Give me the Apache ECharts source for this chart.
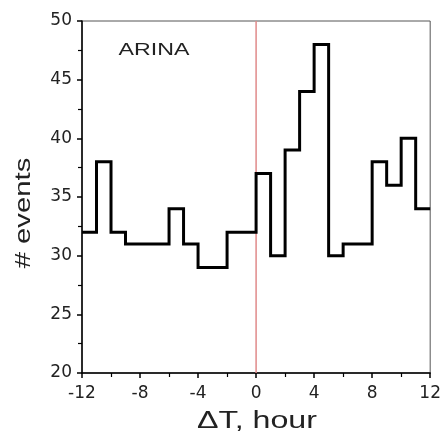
<!DOCTYPE html>
<html>
<head>
<meta charset="utf-8">
<script src="https://cdn.jsdelivr.net/npm/echarts@6/dist/echarts.min.js"></script>
<style>
  html, body { margin: 0; padding: 0; background: #fff; }
  #chart { width: 444px; height: 433px; }
</style>
</head>
<body>
<div id="chart"></div>
<script>
// Hourly bins: left edge of each bin (hours) and the event count in it
const binStarts = [-12, -11, -10, -9, -8, -7, -6, -5, -4, -3, -2, -1,
                   0, 1, 2, 3, 4, 5, 6, 7, 8, 9, 10, 11];
const counts    = [32, 38, 32, 31, 31, 31, 34, 31, 29, 29, 32, 32,
                   37, 30, 39, 44, 48, 30, 31, 31, 38, 36, 40, 34];
const binWidth = 1;
const eventHour = 0;
const xTicks = [-12, -8, -4, 0, 4, 8, 12];
const yTicks = [20, 25, 30, 35, 40, 45, 50];

// Step outline: each bin start plus the closing edge of the last bin
const stepData = binStarts.map((x, i) => [x, counts[i]]);
stepData.push([binStarts[binStarts.length - 1] + binWidth, counts[counts.length - 1]]);

const sans = '"Liberation Sans", Arial, sans-serif';
const tickFont = '"DejaVu Sans", sans-serif';
const chart = echarts.init(document.getElementById('chart'), null, { renderer: 'canvas' });

chart.setOption({
  animation: false,
  backgroundColor: '#fff',
  grid: {
    left: 82, right: 13, top: 21, bottom: 60,
    show: true, borderColor: '#555', borderWidth: 1, backgroundColor: 'transparent'
  },
  // Panel tag and axis titles, drawn with a slight horizontal stretch
  graphic: [
    {
      type: 'text', x: 154, y: 51, scaleX: 1.45,
      style: { text: 'ARINA', font: '16px ' + sans, fill: '#222',
               textAlign: 'center', textVerticalAlign: 'middle' }
    },
    {
      type: 'text', x: 257, y: 422, scaleX: 1.4,
      style: { text: 'ΔT, hour', font: '23px ' + sans, fill: '#222',
               textAlign: 'center', textVerticalAlign: 'middle' }
    },
    {
      type: 'text', x: 24, y: 213, scaleX: 1.33, rotation: Math.PI / 2,
      style: { text: '# events', font: '22px ' + sans, fill: '#222',
               textAlign: 'center', textVerticalAlign: 'middle' }
    }
  ],
  xAxis: {
    type: 'value',
    min: xTicks[0], max: xTicks[xTicks.length - 1], interval: 4,
    axisLine: { onZero: false, lineStyle: { color: '#000', width: 1.5 } },
    axisTick: { show: true, inside: false, length: 5, lineStyle: { color: '#000', width: 1.5 } },
    minorTick: { show: true, splitNumber: 2, length: 4, lineStyle: { color: '#000', width: 1.2 } },
    axisLabel: { fontFamily: tickFont, fontSize: 17, color: '#222', margin: 12 },
    splitLine: { show: false }
  },
  yAxis: {
    type: 'value',
    min: yTicks[0], max: yTicks[yTicks.length - 1], interval: 5,
    axisLine: { show: true, onZero: false, lineStyle: { color: '#000', width: 1.5 } },
    axisTick: { show: true, inside: false, length: 5, lineStyle: { color: '#000', width: 1.5 } },
    minorTick: { show: true, splitNumber: 2, length: 4, lineStyle: { color: '#000', width: 1.2 } },
    axisLabel: { fontFamily: tickFont, fontSize: 17, color: '#222', margin: 10 },
    splitLine: { show: false }
  },
  series: [
    {
      type: 'line',
      data: [[eventHour, yTicks[0]], [eventHour, yTicks[yTicks.length - 1]]],
      symbol: 'none',
      lineStyle: { color: '#e08a8a', width: 1.5 },
      silent: true,
      z: 1
    },
    {
      type: 'line',
      step: 'end',
      data: stepData,
      symbol: 'none',
      lineStyle: { color: '#000', width: 3, join: 'miter' },
      z: 2
    }
  ]
});
</script>
</body>
</html>
